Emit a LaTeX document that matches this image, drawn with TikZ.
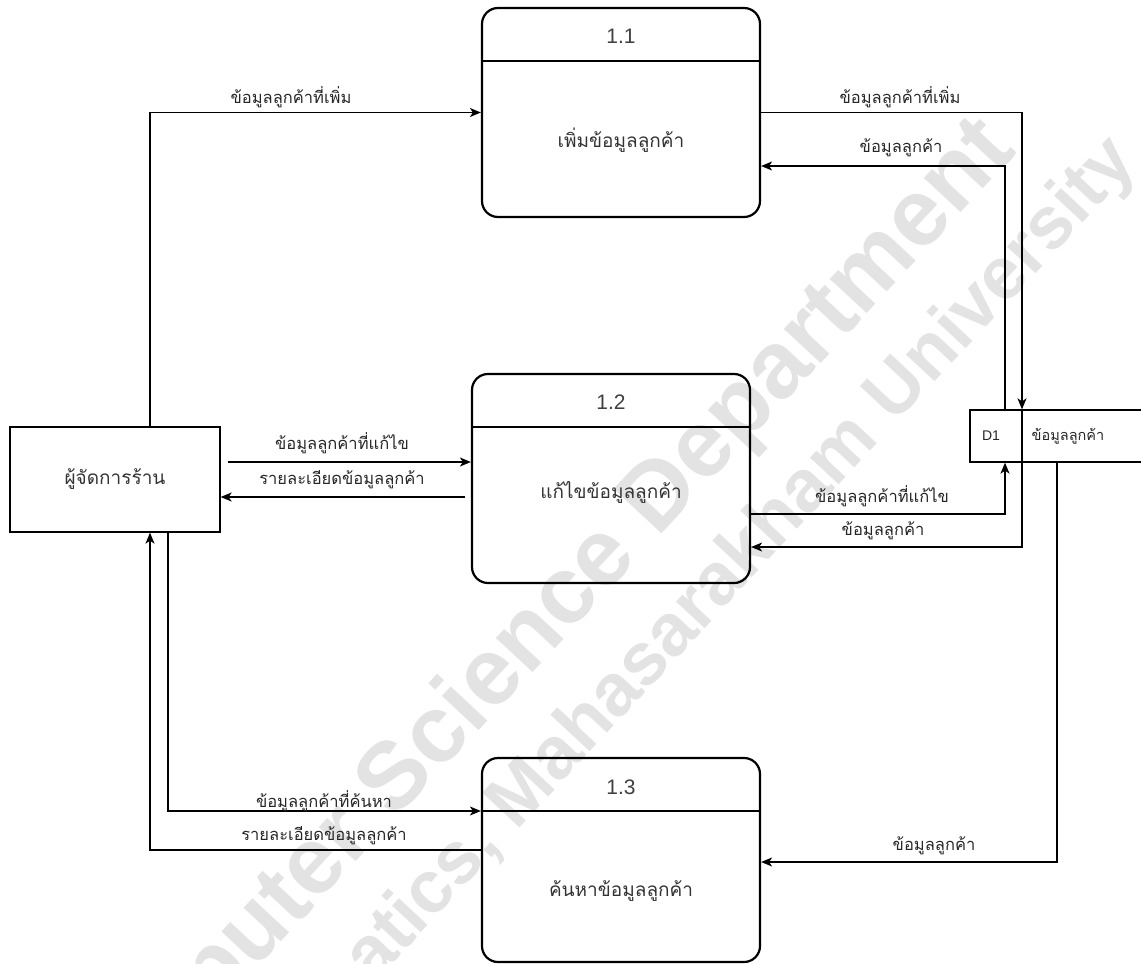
\documentclass[tikz,border=0pt]{standalone}
\usepackage{fontspec}
\setmainfont{Liberation Sans}
\newfontfamily\thai[Script=Thai]{Loma}
\usetikzlibrary{arrows.meta}
\begin{document}
\begin{tikzpicture}[x=1pt,y=-1pt,
  proc/.style={draw, line width=2.2pt, rounded corners=16pt, minimum width=278pt, minimum height=209pt, inner sep=0pt},
  ent/.style={draw, line width=1.3pt, minimum width=210pt, minimum height=105pt, inner sep=0pt},
  store/.style={draw, line width=1.3pt, minimum width=180pt, minimum height=52pt, inner sep=0pt},
  flow/.style={line width=1.3pt, -{Stealth[length=11pt,width=9pt,inset=3pt]}},
  lbl/.style={font=\thai\fontsize{16.5}{18}\selectfont, inner sep=1pt, text=black!85},
  ptxt/.style={font=\thai\fontsize{19}{22}\selectfont, text=black!80},
  pnum/.style={font=\fontsize{21}{24}\selectfont, text=black!75},
  wm/.style={font=\bfseries\fontsize{95}{100}\selectfont, text=black!11, rotate=47, inner sep=0pt}
]
\useasboundingbox (0,0) rectangle (1141,964);
\begin{scope}
\clip (0,0) rectangle (1141,964);
\node[wm, anchor=east] (wm1) at (1000,135) {Computer Science Department};
\node[wm, anchor=east, font=\bfseries\fontsize{74}{80}\selectfont] (wm2) at (1125,150) {Faculty of Informatics, Mahasarakham University};
\end{scope}

% processes
\node[proc] (P1) at (621,112.5) {};
\draw[line width=2.2pt] (P1.west |- 0,61) -- (P1.east |- 0,61);
\node[pnum] (n1) at (621,36) {1.1};
\node[ptxt] (t1) at (621,140) {เพิ่มข้อมูลลูกค้า};

\node[proc] (P2) at (611,478.5) {};
\draw[line width=2.2pt] (P2.west |- 0,427) -- (P2.east |- 0,427);
\node[pnum] (n2) at (611,402) {1.2};
\node[ptxt] (t2) at (611,492) {แก้ไขข้อมูลลูกค้า};

\node[proc, minimum height=204pt] (P3) at (621,860) {};
\draw[line width=2.2pt] (P3.west |- 0,811) -- (P3.east |- 0,811);
\node[pnum] (n3) at (621,787) {1.3};
\node[ptxt] (t3) at (621,891) {ค้นหาข้อมูลลูกค้า};

% external entity
\node[ent, ptxt] (E) at (115,479.5) {ผู้จัดการร้าน};

% data store
\begin{scope}
\clip (0,0) rectangle (1141,964);
\node[store] (D1) at (1060,436) {};
\end{scope}
\draw[line width=1.3pt] (D1.north -| 1022,0) -- (D1.south -| 1022,0);
\node[font=\fontsize{14}{16}\selectfont, text=black!85] (d1id) at (991,436) {D1};
\node[lbl, font=\thai\fontsize{14.5}{16}\selectfont] (d1n) at (1068,436) {ข้อมูลลูกค้า};

% helper x positions
\coordinate (xa) at (1022,0);
\coordinate (xb) at (1005,0);
\coordinate (xc) at (1057,0);
\coordinate (xe1) at (150,0);
\coordinate (xe2) at (168,0);
\coordinate (f4) at (228,462);
\coordinate (f5) at (465,497);

% flows
\draw[flow] (E.north -| xe1) |- (P1.west);
\draw[flow] (P1.east) -| (D1.north -| xa);
\draw[flow] (D1.north -| xb) |- (P1.east |- 0,166);
\draw[flow] (f4) -- (P2.west |- f4);
\draw[flow] (f5) -- (E.east |- f5);
\draw[flow] (P2.east |- 0,514) -| (D1.south -| xb);
\draw[flow] (D1.south -| xa) |- (P2.east |- 0,547);
\draw[flow] (E.south -| xe2) |- (P3.west |- 0,811);
\draw[flow] (P3.west |- 0,850) -| (E.south -| xe1);
\draw[flow] (D1.south -| xc) |- (P3.east |- 0,862);

% labels
\node[lbl] (l1) at (291,97) {ข้อมูลลูกค้าที่เพิ่ม};
\node[lbl] (l2) at (900,97) {ข้อมูลลูกค้าที่เพิ่ม};
\node[lbl] (l3) at (901,148) {ข้อมูลลูกค้า};
\node[lbl] (l4) at (342,443) {ข้อมูลลูกค้าที่แก้ไข};
\node[lbl] (l5) at (342,480) {รายละเอียดข้อมูลลูกค้า};
\node[lbl] (l6) at (882,496) {ข้อมูลลูกค้าที่แก้ไข};
\node[lbl] (l7) at (883,531) {ข้อมูลลูกค้า};
\node[lbl] (l8) at (324,801) {ข้อมูลลูกค้าที่ค้นหา};
\node[lbl] (l9) at (324,836) {รายละเอียดข้อมูลลูกค้า};
\node[lbl] (l10) at (934,846) {ข้อมูลลูกค้า};
\end{tikzpicture}
\end{document}
